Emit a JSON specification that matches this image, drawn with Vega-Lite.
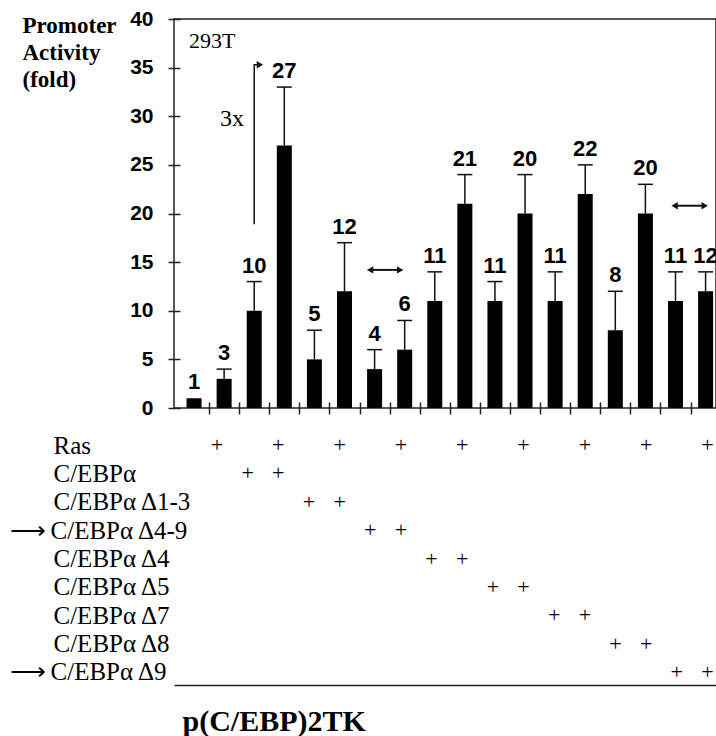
{
  "$schema": "https://vega.github.io/schema/vega-lite/v6.json",
  "background": "white",
  "padding": {"left": 9, "top": 7, "right": 0, "bottom": 2},
  "config": {
    "view": {"stroke": "#222", "strokeWidth": 1.5},
    "axis": {"grid": false, "labelColor": "black", "titleColor": "black", "tickColor": "#222", "domainColor": "#222"}
  },
  "datasets": {
    "bars": [
      {"x": 1, "y": 1, "upper": 1},
      {"x": 2, "y": 3, "upper": 4},
      {"x": 3, "y": 10, "upper": 13},
      {"x": 4, "y": 27, "upper": 33},
      {"x": 5, "y": 5, "upper": 8},
      {"x": 6, "y": 12, "upper": 17},
      {"x": 7, "y": 4, "upper": 6},
      {"x": 8, "y": 6, "upper": 9},
      {"x": 9, "y": 11, "upper": 14},
      {"x": 10, "y": 21, "upper": 24},
      {"x": 11, "y": 11, "upper": 13},
      {"x": 12, "y": 20, "upper": 24},
      {"x": 13, "y": 11, "upper": 14},
      {"x": 14, "y": 22, "upper": 25},
      {"x": 15, "y": 8, "upper": 12},
      {"x": 16, "y": 20, "upper": 23},
      {"x": 17, "y": 11, "upper": 14},
      {"x": 18, "y": 12, "upper": 14}
    ],
    "bracket": [
      {"x": 3, "y": 18.9, "o": 1},
      {"x": 3, "y": 35.3, "o": 2},
      {"x": 3.19, "y": 35.3, "o": 3}
    ],
    "dbl": [
      {"x": 6.85, "x2": 7.85, "y": 14.2},
      {"x": 16.97, "x2": 17.97, "y": 20.8}
    ],
    "heads": [
      {"x": 3.19, "y": 35.3, "dir": "right"},
      {"x": 6.85, "y": 14.2, "dir": "left"},
      {"x": 7.85, "y": 14.2, "dir": "right"},
      {"x": 16.97, "y": 20.8, "dir": "left"},
      {"x": 17.97, "y": 20.8, "dir": "right"}
    ],
    "notes": [
      {"x": 0.83, "y": 37, "text": "293T"},
      {"x": 2.26, "y": 29, "text": "3x"}
    ],
    "table": [
      {"row": "Ras", "bar": 2}, {"row": "Ras", "bar": 4}, {"row": "Ras", "bar": 6},
      {"row": "Ras", "bar": 8}, {"row": "Ras", "bar": 10}, {"row": "Ras", "bar": 12},
      {"row": "Ras", "bar": 14}, {"row": "Ras", "bar": 16}, {"row": "Ras", "bar": 18},
      {"row": "C/EBPα", "bar": 3}, {"row": "C/EBPα", "bar": 4},
      {"row": "C/EBPα Δ1-3", "bar": 5}, {"row": "C/EBPα Δ1-3", "bar": 6},
      {"row": "C/EBPα Δ4-9", "bar": 7}, {"row": "C/EBPα Δ4-9", "bar": 8},
      {"row": "C/EBPα Δ4", "bar": 9}, {"row": "C/EBPα Δ4", "bar": 10},
      {"row": "C/EBPα Δ5", "bar": 11}, {"row": "C/EBPα Δ5", "bar": 12},
      {"row": "C/EBPα Δ7", "bar": 13}, {"row": "C/EBPα Δ7", "bar": 14},
      {"row": "C/EBPα Δ8", "bar": 15}, {"row": "C/EBPα Δ8", "bar": 16},
      {"row": "C/EBPα Δ9", "bar": 17}, {"row": "C/EBPα Δ9", "bar": 18}
    ]
  },
  "bounds": "flush",
  "spacing": 24,
  "vconcat": [
    {
      "width": 542,
      "height": 389,
      "encoding": {
        "x": {
          "field": "x", "type": "quantitative",
          "scale": {"domain": [0.5, 18.18], "nice": false, "zero": false},
          "axis": {
            "values": [1.5, 2.5, 3.5, 4.5, 5.5, 6.5, 7.5, 8.5, 9.5, 10.5, 11.5, 12.5, 13.5, 14.5, 15.5, 16.5, 17.5],
            "labels": false, "domain": false, "offset": -6, "tickSize": 12, "tickWidth": 1.5, "title": null
          }
        },
        "y": {
          "field": "y", "type": "quantitative",
          "scale": {"domain": [0, 40], "nice": false},
          "axis": {
            "values": [0, 5, 10, 15, 20, 25, 30, 35, 40],
            "domain": false, "offset": -6, "tickSize": 12, "tickWidth": 1.5,
            "labelPadding": 15, "labelFont": "Liberation Sans", "labelFontSize": 21, "labelFontWeight": "bold",
            "title": ["Promoter", "Activity", "(fold)"],
            "titleAngle": 0, "titleAlign": "left", "titleBaseline": "alphabetic",
            "titleX": -158, "titleY": 13, "titleFont": "Liberation Serif", "titleFontSize": 23,
            "titleFontWeight": "bold", "titleLineHeight": 27
          }
        }
      },
      "layer": [
        {
          "data": {"name": "bars"},
          "mark": {"type": "bar", "orient": "vertical", "size": 15, "color": "black"}
        },
        {
          "data": {"name": "bars"},
          "transform": [{"filter": "datum.upper > datum.y"}],
          "mark": {"type": "rule", "color": "#111", "strokeWidth": 1.5},
          "encoding": {"y2": {"field": "upper"}}
        },
        {
          "data": {"name": "bars"},
          "transform": [{"filter": "datum.upper > datum.y"}],
          "mark": {"type": "tick", "orient": "horizontal", "size": 15, "thickness": 1.5, "color": "#111", "opacity": 1},
          "encoding": {"y": {"field": "upper", "type": "quantitative", "scale": {"domain": [0, 40], "nice": false}}}
        },
        {
          "data": {"name": "bars"},
          "mark": {"type": "text", "font": "Liberation Sans", "fontSize": 22, "fontWeight": "bold", "baseline": "alphabetic", "dy": -9, "color": "black", "clip": true},
          "encoding": {
            "y": {"field": "upper", "type": "quantitative", "scale": {"domain": [0, 40], "nice": false}},
            "text": {"field": "y", "type": "quantitative"}
          }
        },
        {
          "data": {"name": "bracket"},
          "mark": {"type": "line", "color": "#111", "strokeWidth": 1.5},
          "encoding": {"order": {"field": "o", "type": "quantitative"}}
        },
        {
          "data": {"name": "dbl"},
          "mark": {"type": "rule", "color": "#111", "strokeWidth": 2},
          "encoding": {"x2": {"field": "x2"}}
        },
        {
          "data": {"name": "heads"},
          "mark": {"type": "point", "filled": true, "size": 55, "color": "#111", "opacity": 1},
          "encoding": {
            "shape": {"field": "dir", "type": "nominal", "scale": {"domain": ["left", "right"], "range": ["triangle-left", "triangle-right"]}, "legend": null}
          }
        },
        {
          "data": {"name": "notes"},
          "transform": [{"filter": "datum.text == '293T'"}],
          "mark": {"type": "text", "font": "Liberation Serif", "fontSize": 22, "align": "left", "baseline": "alphabetic", "color": "black"},
          "encoding": {"text": {"field": "text"}}
        },
        {
          "data": {"name": "notes"},
          "transform": [{"filter": "datum.text == '3x'"}],
          "mark": {"type": "text", "font": "Liberation Serif", "fontSize": 24, "align": "center", "baseline": "alphabetic", "color": "black"},
          "encoding": {"text": {"field": "text"}}
        }
      ]
    },
    {
      "width": 542,
      "height": 253,
      "view": {"stroke": null},
      "data": {"name": "table"},
      "mark": {"type": "text", "text": "+", "font": "Liberation Serif", "fontSize": 22, "dx": -3, "baseline": "middle", "color": "black"},
      "encoding": {
        "x": {
          "field": "bar", "type": "quantitative",
          "scale": {"domain": [0.5, 18.18], "nice": false, "zero": false},
          "axis": {
            "labels": false, "ticks": false, "domain": true, "domainWidth": 1.5,
            "title": "p(C/EBP)2TK", "titleFont": "Liberation Serif", "titleFontSize": 30, "titleFontWeight": "bold",
            "titleAnchor": "start", "titleAlign": "left", "titleBaseline": "alphabetic", "titleX": 8, "titleY": 45
          }
        },
        "y": {
          "field": "row", "type": "ordinal",
          "scale": {"type": "point", "padding": 0.46, "domain": ["Ras", "C/EBPα", "C/EBPα Δ1-3", "C/EBPα Δ4-9", "C/EBPα Δ4", "C/EBPα Δ5", "C/EBPα Δ7", "C/EBPα Δ8", "C/EBPα Δ9"]},
          "axis": {
            "domain": false, "ticks": false, "tickSize": 0, "title": null,
            "labelAlign": "left", "labelFont": "Liberation Serif", "labelFontSize": 25,
            "labelExpr": "(datum.value == 'C/EBPα Δ4-9' || datum.value == 'C/EBPα Δ9') ? '\u27f6\u2009' + datum.value : datum.value",
            "labelPadding": {"condition": {"test": "datum.value == 'C/EBPα Δ4-9' || datum.value == 'C/EBPα Δ9'", "value": 165}, "value": 121}
          }
        }
      }
    }
  ]
}
